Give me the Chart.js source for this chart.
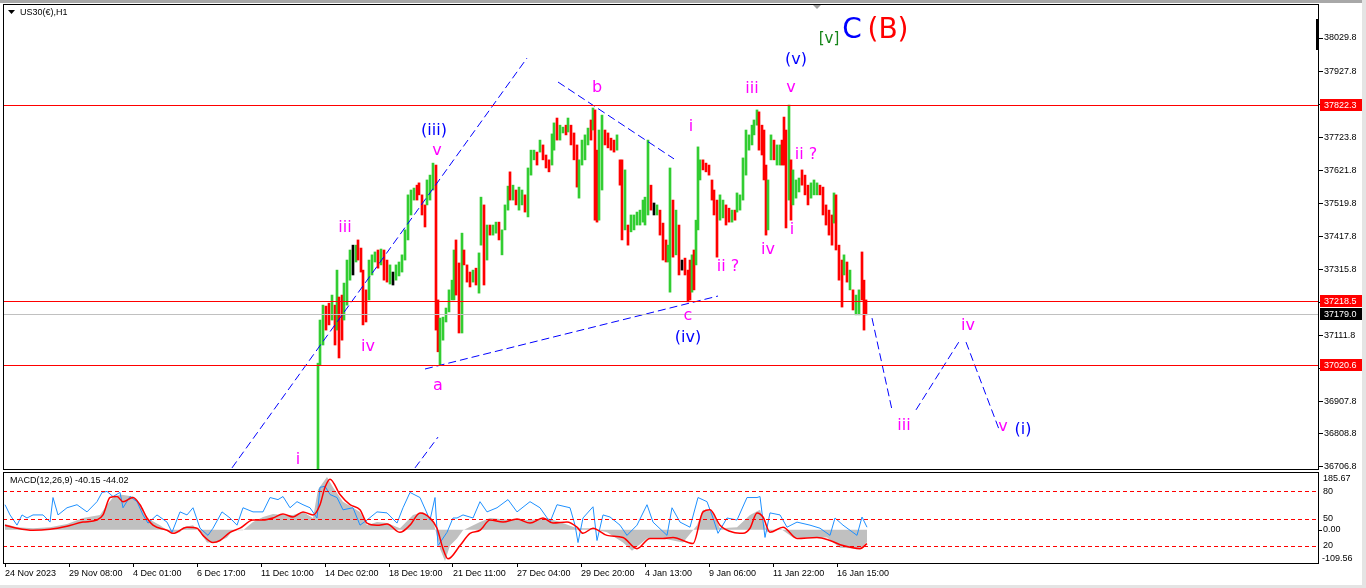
<!DOCTYPE html>
<html>
<head>
<meta charset="utf-8">
<title>US30(€),H1</title>
<script src="https://cdn.jsdelivr.net/npm/chart.js@4.4.1/dist/chart.umd.min.js"></script>
<style>
  html, body { margin: 0; padding: 0; background: #fff; }
  #wrap { position: relative; width: 1366px; height: 588px; overflow: hidden; background: #fff; }
  #price-box { position: absolute; left: 0; top: 0; width: 1366px; height: 472px; }
  #macd-box { position: absolute; left: 0; top: 471px; width: 1366px; height: 117px; }
  .edge { position: absolute; background: #e4e4e4; z-index: 5; }
  #edge-top { left: 0; top: 0; width: 1366px; height: 3px; background: #a8a8a8; }
  #edge-right { right: 0; top: 0; width: 4px; height: 588px; }
  #edge-bottom { left: 0; bottom: 0; width: 1366px; height: 3px; }
</style>
</head>
<body>
<div id="wrap">
  <div id="price-box"><canvas id="price-canvas" width="1366" height="472"></canvas></div>
  <div id="macd-box"><canvas id="macd-canvas" width="1366" height="117"></canvas></div>
  <div class="edge" id="edge-top"></div>
  <div class="edge" id="edge-right"></div>
  <div class="edge" id="edge-bottom"></div>
</div>
<script>
// US30 H1 bars: bar number (1 px = 1 hour on the chart), low, high, direction (u up, d down, n doji)
const barIdx = [
  313,315,318,321,324,327,330,332,334,337, 339,342,345,348,351,353,356,358,361,364,
  367,370,373,376,379,382,385,388,391,394, 397,400,403,406,409,412,414,417,420,422,
  425,428,431,433,435,438,441,444,447,449, 451,454,457,459,462,465,468,471,474,476,
  479,482,485,488,491,494,497,500,503,505, 508,511,514,517,520,523,526,529,532,535,
  538,541,544,547,549,552,555,558,561,563, 566,569,572,574,577,580,583,586,588,590,
  592,594,597,600,603,606,609,612,615,617, 620,623,626,629,632,635,638,640,643,646,
  649,652,655,658,661,663,665,668,671,674, 677,680,683,685,687,689,691,693,695,698,
  701,704,707,709,712,715,718,721,724,727, 730,732,735,738,741,744,747,749,752,754,
  757,759,761,763,766,769,772,775,777,779, 781,784,786,788,791,794,797,800,803,806,
  809,812,815,818,821,824,827,829,831,834, 837,839,842,845,848,851,854,857,859,861
];
const barLow = [
  36660,37021,37083,37129,37145,37160,37083,37129,37043,37098, 37160,37206,37283,37299,37339,37345,37308,37145,37154,37222,
  37299,37339,37320,37330,37283,37277,37271,37268,37283,37296, 37308,37345,37407,37484,37530,37530,37546,37484,37447,37515,
  37530,37561,37129,37062,37021,37098,37154,37185,37222,37222, 37237,37120,37120,37330,37277,37262,37277,37268,37243,37391,
  37268,37345,37422,37422,37428,37407,37361,37438,37499,37530, 37530,37515,37499,37515,37493,37478,37607,37654,37638,37678,
  37654,37629,37617,37638,37684,37715,37715,37737,37731,37740, 37700,37654,37570,37536,37638,37654,37700,37715,37746,37468,
  37462,37468,37561,37700,37691,37684,37678,37684,37576,37407, 37438,37391,37432,37438,37453,37453,37462,37453,37484,37499,
  37484,37484,37422,37345,37339,37339,37246,37354,37361,37299, 37314,37299,37216,37222,37246,37253,37330,37438,37592,37623,
  37617,37607,37530,37484,37354,37468,37475,37453,37462,37462, 37468,37493,37499,37530,37607,37684,37700,37731,37761,37684,
  37669,37592,37422,37438,37654,37654,37638,37638,37638,37638, 37444,37530,37468,37515,37536,37555,37576,37546,37515,37536,
  37546,37546,37546,37484,37453,37422,37391,37459,37376,37283, 37200,37299,37277,37253,37191,37176,37176,37222,37129,37176
];
const barHigh = [
  37027,37160,37206,37203,37212,37237,37206,37314,37231,37237, 37274,37345,37376,37391,37391,37407,37382,37314,37253,37345,
  37361,37370,37376,37379,37376,37345,37330,37308,37330,37339, 37361,37438,37546,37561,37567,37576,37583,37546,37515,37592,
  37607,37644,37638,37222,37166,37169,37197,37253,37283,37376, 37407,37336,37428,37376,37330,37308,37314,37320,37367,37539,
  37515,37453,37453,37453,37462,37462,37438,37515,37573,37617, 37576,37561,37570,37561,37546,37629,37684,37684,37678,37715,
  37700,37669,37654,37734,37768,37783,37761,37755,37761,37783, 37761,37737,37700,37654,37715,37731,37752,37777,37814,37808,
  37684,37746,37792,37746,37737,37721,37715,37731,37654,37654, 37623,37453,37484,37484,37493,37499,37530,37539,37715,37576,
  37521,37515,37499,37459,37407,37391,37629,37530,37499,37453, 37345,37351,37314,37345,37361,37376,37468,37694,37654,37654,
  37644,37638,37592,37561,37530,37546,37530,37515,37505,37499, 37499,37552,37546,37660,37746,37731,37761,37777,37808,37802,
  37761,37746,37638,37592,37731,37715,37700,37700,37715,37786, 37746,37823,37654,37623,37592,37598,37623,37607,37576,37583,
  37592,37583,37576,37570,37515,37499,37484,37552,37546,37391, 37345,37361,37339,37314,37253,37237,37253,37370,37283,37222
];
const barDir = [
  'uuuddududd','uuunuddddu','uududdunuu','uuuuuddddu','uudduuuuuu',
  'dduddduduu','duduuduuud','uduuduuudu','ddduuduudu','ddduuuudud',
  'duuddddudd','uduuuuuuud','nuddduudud','nddduduuud','ddddduuddu',
  'duuuuuuuud','ddduuduudd','duduuudddu','uudddddudd','dududuuddd'
].join('').split('');

// price axis ticks and marked levels
const priceTicks = [38029.8, 37927.8, 37825.8, 37723.8, 37621.8, 37519.8, 37417.8,
  37315.8, 37213.8, 37111.8, 37009.8, 36907.8, 36808.8, 36706.8];
const levelPrices = [37822.3, 37218.5, 37020.6];
const bidPrice = 37179.0;

// time axis (bar number of each date label)
const dateIdx = [0, 64, 128, 192, 256, 320, 384, 448, 512, 576, 640, 704, 768, 832];
const dateLabels = ['24 Nov 2023', '29 Nov 08:00', '4 Dec 01:00', '6 Dec 17:00', '11 Dec 10:00',
  '14 Dec 02:00', '18 Dec 19:00', '21 Dec 11:00', '27 Dec 04:00', '29 Dec 20:00',
  '4 Jan 13:00', '9 Jan 06:00', '11 Jan 22:00', '16 Jan 15:00'];

// MACD(12,26,9) panel: histogram, signal (red) and the blue line
const histIdx = [0,12,28,45,62,78,95,102,108,115,128,135,142,155,165,175,178,188,195,202,
  212,222,228,238,248,258,268,278,288,298,308,313,322,328,338,348,355,362,372,382,
  395,408,418,428,435,440,445,452,458,475,485,505,525,542,555,572,585,602,618,627,
  642,658,678,692,698,708,715,732,745,755,762,775,788,805,822,835,855,862];
const histVals = [18.4,8.5,5.3,8.5,18.4,38.1,47.9,80.7,103.7,113.5,106.9,80.7,38.1,15.1,-7.9,-7.9,8.5,15.1,-7.9,-40.7,
  -40.7,-24.3,-1.3,-1.3,24.9,41.3,51.2,47.9,47.9,57.7,38.1,129.9,169.3,136.5,90.5,70.9,57.7,15.1,24.9,21.7,
  5.3,47.9,57.7,31.5,-60.3,-99.7,-50.5,-27.5,-1.3,24.9,38.1,31.5,31.5,38.1,24.9,5.3,5.3,-7.9,-40.7,-66.9,
  -27.5,-27.5,-40.7,15.1,64.3,57.7,5.3,8.5,47.9,64.3,-7.9,5.3,-24.3,-24.3,-24.3,-57.1,-60.3,-40.15];
const signalIdx = [0,12,28,45,62,78,92,98,105,112,118,128,135,142,148,162,168,182,192,198,
  208,215,225,235,248,258,268,278,288,298,308,315,320,325,335,345,355,362,372,382,
  395,405,415,425,432,438,443,455,465,475,485,498,512,525,538,548,562,572,578,588,
  602,618,632,645,658,668,688,698,705,715,728,738,745,752,758,765,778,792,812,825,838,855,862];
const signalVals = [15.1,5.3,-1.3,2.0,11.8,24.9,31.5,47.9,103.7,106.9,90.5,103.7,80.7,38.1,15.1,-1.3,-11.1,8.5,5.3,-17.7,
  -40.7,-34.1,-7.9,5.3,31.5,31.5,38.1,51.2,41.3,57.7,47.9,80.7,136.5,162.7,113.5,80.7,64.3,21.7,15.1,18.4,
  -7.9,15.1,54.5,38.1,5.3,-60.3,-93.1,-50.5,-11.1,-1.3,31.5,24.9,34.8,21.7,38.1,21.7,24.9,8.5,-11.1,5.3,
  -17.7,-24.3,-60.3,-27.5,-27.5,-24.3,-43.9,57.7,64.3,15.1,-7.9,-11.1,5.3,54.5,41.3,-7.9,8.5,-27.5,-24.3,-34.1,-50.5,-60.3,-44.02];
const blueIdx = [0,5,12,17,22,28,38,45,48,53,62,72,82,92,97,102,108,115,118,125,
  132,138,143,152,162,167,175,182,188,195,203,208,217,225,232,238,248,258,265,273,
  278,285,292,298,305,312,315,320,325,332,338,348,355,362,372,382,392,398,405,415,
  425,430,433,442,448,452,458,468,475,482,492,503,512,525,535,545,552,565,570,573,
  578,588,592,598,605,615,622,632,642,648,662,667,675,685,693,702,708,713,722,732,
  742,752,755,760,765,775,782,792,805,815,825,830,838,852,857,862];
const blueVals = [80.7,47.9,15.1,47.9,38.1,47.9,47.9,24.9,103.7,47.9,70.9,80.7,57.7,90.5,120.1,123.3,106.9,120.1,70.9,106.9,
  90.5,47.9,21.7,47.9,24.9,-7.9,57.7,47.9,70.9,5.3,-17.7,5.3,57.7,38.1,15.1,70.9,57.7,57.7,103.7,97.1,
  106.9,70.9,90.5,80.7,70.9,38.1,136.5,139.7,113.5,103.7,64.3,70.9,15.1,31.5,57.7,54.5,21.7,70.9,120.1,103.7,
  31.5,103.7,-50.5,-7.9,38.1,38.1,47.9,38.1,90.5,57.7,70.9,97.1,57.7,90.5,70.9,24.9,80.7,70.9,15.1,-40.7,
  38.1,74.1,-34.1,47.9,41.3,15.1,-17.7,15.1,80.7,24.9,-17.7,70.9,24.9,8.5,103.7,90.5,38.1,-11.1,38.1,31.5,
  103.7,103.7,106.9,-24.3,54.5,47.9,8.5,24.9,15.1,5.3,-17.7,38.1,15.1,-17.7,41.3,8.5];
const macdLevels = [124.0, 36.4, -51.1];
const macdLevelText = ['80', '50', '20'];

// Elliott wave annotations: [text, bar, price, colour, font]
const MAG = '#ff00ff', BLUE = '#0000ff';
const WAVE_FONT = '16px "DejaVu Sans", sans-serif';
const BIG_FONT = '28px "DejaVu Sans", sans-serif';
const waves = [
  ['i', 293, 36728, MAG], ['iii', 340, 37444, MAG], ['iv', 363, 37077, MAG],
  ['(iii)', 429, 37743, BLUE], ['v', 432, 37681, MAG], ['a', 433, 36957, MAG],
  ['b', 592, 37876, MAG], ['i', 686, 37755, MAG], ['c', 683, 37172, MAG],
  ['(iv)', 683, 37105, BLUE], ['ii ?', 723, 37324, MAG], ['iii', 747, 37872, MAG],
  ['v', 786, 37876, MAG], ['(v)', 791, 37962, BLUE], ['iv', 763, 37376, MAG],
  ['ii ?', 801, 37669, MAG], ['i', 787, 37438, MAG], ['iii', 899, 36833, MAG],
  ['iv', 963, 37142, MAG], ['v', 998, 36830, MAG], ['(i)', 1018, 36821, BLUE],
  ['[v]', 824, 38027, '#17861a', '15px "DejaVu Sans", sans-serif'],
  ['C', 847, 38051, BLUE, BIG_FONT], ['(B)', 883, 38051, '#ff0000', BIG_FONT]
];
// dashed wave channels and projection: pairs of [bar, price]
const trendLines = [
  [[227, 36704], [522, 37968]],
  [[410, 36704], [433, 36799]],
  [[420, 37009], [713, 37234]],
  [[553, 37894], [669, 37657]],
  [[867, 37166], [887, 36883]],
  [[911, 36883], [955, 37098]],
  [[961, 37092], [995, 36815]]
];

Chart.defaults.font.family = 'Tahoma, "Liberation Sans", Arial, sans-serif';
Chart.defaults.font.size = 9;
Chart.defaults.color = '#000';

const dirColor = { u: '#32cd32', d: '#ff0000', n: '#000000' };
const AXIS_W = 47;

// keep the plot area exactly where the padding puts it
function noScalePadding(s) {
    s.paddingTop = 0;
    s.paddingBottom = 0;
    s.paddingLeft = 0;
    s.paddingRight = 0;
}

function drawFrame(ctx, a) {
    ctx.save();
    ctx.strokeStyle = '#000';
    ctx.lineWidth = 1;
    ctx.strokeRect(a.left + 0.5, a.top + 0.5, a.right - a.left - 1, a.bottom - a.top - 1);
    ctx.restore();
}

// Draw levels, wave labels, price boxes and the frame on the price chart
const priceOverlay = {
    id: 'priceOverlay',
    afterDatasetsDraw(chart) {
        const { ctx, chartArea: a, scales: { x, y } } = chart;
        ctx.save();
        ctx.lineWidth = 1;
        const levels = [[bidPrice, '#c0c0c0']].concat(levelPrices.map(p => [p, '#ff0000']));
        levels.forEach(([p, col]) => {
            const py = Math.round(y.getPixelForValue(p)) + 0.5;
            ctx.strokeStyle = col;
            ctx.beginPath();
            ctx.moveTo(a.left, py);
            ctx.lineTo(a.right, py);
            ctx.stroke();
        });
        ctx.textAlign = 'center';
        ctx.textBaseline = 'middle';
        waves.forEach(w => {
            ctx.font = w[4] || WAVE_FONT;
            ctx.fillStyle = w[3];
            ctx.fillText(w[0], x.getPixelForValue(w[1]), y.getPixelForValue(w[2]));
        });
        ctx.restore();
    },
    afterDraw(chart) {
        const { ctx, chartArea: a, scales: { y } } = chart;
        ctx.save();
        // price boxes on the axis
        ctx.font = '9px Tahoma, "Liberation Sans", Arial, sans-serif';
        ctx.textBaseline = 'middle';
        ctx.textAlign = 'left';
        const boxes = levelPrices.map(p => [p, '#ff0000']).concat([[bidPrice, '#000000']]);
        boxes.forEach(([p, col]) => {
            const py = Math.round(y.getPixelForValue(p));
            ctx.fillStyle = col;
            ctx.fillRect(a.right + 1, py - 6, 42, 12);
            ctx.fillStyle = '#fff';
            ctx.fillText(p.toFixed(1), a.right + 5, py + 0.5);
        });
        // title
        ctx.fillStyle = '#000';
        ctx.beginPath();
        ctx.moveTo(8, 10); ctx.lineTo(15, 10); ctx.lineTo(11.5, 14); ctx.closePath();
        ctx.fill();
        ctx.fillText('US30(€),H1', 20, 12.5);
        // scroll marker and chart shift marker
        ctx.fillRect(a.right - 3, 19, 3, 31);
        ctx.fillStyle = '#a0a0a0';
        ctx.beginPath();
        ctx.moveTo(812, 4); ctx.lineTo(822, 4); ctx.lineTo(817, 9); ctx.closePath();
        ctx.fill();
        ctx.restore();
        drawFrame(ctx, a);
    }
};

const barData = barIdx.map((b, i) => ({ x: b, y: [barLow[i], barHigh[i]] }));
const lineSets = trendLines.map(seg => ({
    type: 'line',
    data: seg.map(p => ({ x: p[0], y: p[1] })),
    borderColor: '#0000ff',
    borderWidth: 1,
    borderDash: [8, 4],
    pointRadius: 0,
    fill: false,
    order: 1
}));

new Chart(document.getElementById('price-canvas'), {
    type: 'bar',
    data: {
        datasets: [{
            type: 'bar',
            data: barData,
            backgroundColor: barDir.map(d => dirColor[d]),
            borderWidth: 0,
            barThickness: 2,
            order: 2
        }].concat(lineSets)
    },
    options: {
        responsive: false,
        animation: false,
        devicePixelRatio: 1,
        layout: { padding: { left: 3, top: 4, right: 0, bottom: 2 } },
        plugins: { legend: { display: false }, tooltip: { enabled: false } },
        scales: {
            x: { type: 'linear', min: -2, max: 1314, offset: false, display: false },
            y: {
                position: 'right',
                min: 36697.5,
                max: 38134.7,
                beginAtZero: false,
                border: { display: false },
                grid: { drawOnChartArea: false, color: '#000', tickLength: 4 },
                ticks: { padding: 1, color: '#000', callback: v => v.toFixed(1) },
                afterBuildTicks: s => { s.ticks = priceTicks.map(v => ({ value: v })); },
                afterFit: s => { s.width = AXIS_W; noScalePadding(s); }
            }
        }
    },
    plugins: [priceOverlay]
});

// MACD panel: dashed levels, caption, end labels, frame
const macdOverlay = {
    id: 'macdOverlay',
    afterDatasetsDraw(chart) {
        const { ctx, chartArea: a, scales: { y } } = chart;
        ctx.save();
        ctx.strokeStyle = '#ff0000';
        ctx.lineWidth = 1;
        ctx.setLineDash([4, 3]);
        macdLevels.forEach(v => {
            const py = Math.round(y.getPixelForValue(v)) + 0.5;
            ctx.beginPath();
            ctx.moveTo(a.left, py);
            ctx.lineTo(a.right, py);
            ctx.stroke();
        });
        ctx.restore();
    },
    afterDraw(chart) {
        const { ctx, chartArea: a, scales: { y } } = chart;
        ctx.save();
        ctx.font = '9px Tahoma, "Liberation Sans", Arial, sans-serif';
        ctx.fillStyle = '#000';
        ctx.textBaseline = 'middle';
        ctx.textAlign = 'left';
        ctx.fillText('MACD(12,26,9) -40.15 -44.02', 10, a.top + 9);
        ctx.fillText('185.67', a.right + 4, a.top + 7);
        ctx.fillText('-109.56', a.right + 3, a.bottom - 5);
        // short tick at the zero line
        const zy = Math.round(y.getPixelForValue(0)) + 0.5;
        ctx.strokeStyle = '#000';
        ctx.beginPath();
        ctx.moveTo(a.right, zy);
        ctx.lineTo(a.right + 3, zy);
        ctx.stroke();
        ctx.restore();
        drawFrame(ctx, a);
    }
};

const yTickVals = macdLevels.concat([0]);
const yTickText = macdLevelText.concat(['0.00']);

new Chart(document.getElementById('macd-canvas'), {
    type: 'line',
    data: {
        datasets: [
            {
                data: histIdx.map((b, i) => ({ x: b, y: histVals[i] })),
                fill: 'origin',
                backgroundColor: '#c0c0c0',
                borderColor: 'rgba(0,0,0,0)',
                borderWidth: 0,
                pointRadius: 0,
                order: 3
            },
            {
                data: blueIdx.map((b, i) => ({ x: b, y: blueVals[i] })),
                borderColor: '#1e90ff',
                borderWidth: 1,
                pointRadius: 0,
                fill: false,
                order: 2
            },
            {
                data: signalIdx.map((b, i) => ({ x: b, y: signalVals[i] })),
                borderColor: '#ff0000',
                borderWidth: 1.5,
                pointRadius: 0,
                fill: false,
                cubicInterpolationMode: 'monotone',
                order: 1
            }
        ]
    },
    options: {
        responsive: false,
        animation: false,
        devicePixelRatio: 1,
        layout: { padding: { left: 3, top: 1, right: 0, bottom: 0 } },
        plugins: { legend: { display: false }, tooltip: { enabled: false } },
        scales: {
            x: {
                type: 'linear',
                min: -2,
                max: 1314,
                border: { display: false },
                grid: { drawOnChartArea: false, color: '#000', tickLength: 3 },
                ticks: {
                    align: 'start',
                    autoSkip: false,
                    maxRotation: 0,
                    padding: 1,
                    color: '#000',
                    callback: v => dateLabels[dateIdx.indexOf(v)]
                },
                afterBuildTicks: s => { s.ticks = dateIdx.map(v => ({ value: v })); },
                afterFit: s => { s.height = 24; noScalePadding(s); }
            },
            y: {
                position: 'right',
                min: -109.56,
                max: 185.67,
                border: { display: false },
                grid: { display: false, drawOnChartArea: false, drawTicks: false },
                ticks: { padding: 4, color: '#000', callback: v => yTickText[yTickVals.indexOf(v)] },
                afterBuildTicks: s => { s.ticks = yTickVals.map(v => ({ value: v })); },
                afterFit: s => { s.width = AXIS_W; noScalePadding(s); }
            }
        }
    },
    plugins: [macdOverlay]
});
</script>
</body>
</html>
